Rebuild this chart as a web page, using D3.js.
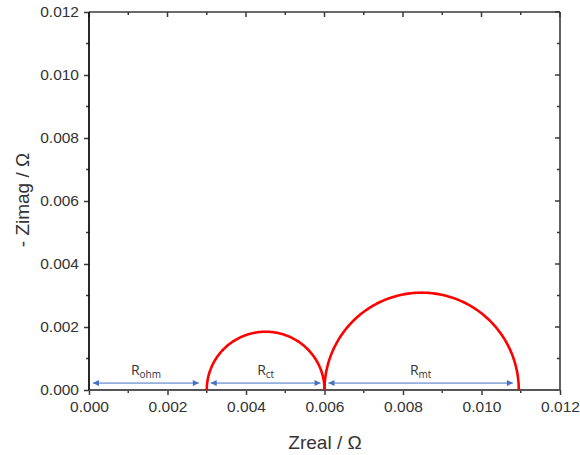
<!DOCTYPE html>
<html><head><meta charset="utf-8">
<script src="https://cdn.jsdelivr.net/npm/d3@7"></script>
<style>body{margin:0;background:#fff}svg{display:block;font-family:Arial,"Liberation Sans",sans-serif}</style>
</head><body><svg id="c" width="580" height="455"></svg>
<script>
const xTicks = [0, 0.002, 0.004, 0.006, 0.008, 0.010, 0.012];
const yTicks = [0, 0.002, 0.004, 0.006, 0.008, 0.010, 0.012];
const arcStart = [0.003, 0.006];
const arcEnd = [0.006, 0.01095];
const arcPeak = [0.00185, 0.00309];
const arrowFrom = [0.0001, 0.0031, 0.0061];
const arrowTo = [0.0028, 0.0059, 0.0108];
const arrowY = [0.00022, 0.00022, 0.00022];
const labelMain = ["R", "R", "R"];
const labelSub = ["ohm", "ct", "mt"];

const svg = d3.select("#c");
const L = 89, R = 560, T = 12, B = 390;
const x = d3.scaleLinear().domain([0, 0.012]).range([L, R]);
const y = d3.scaleLinear().domain([0, 0.012]).range([B, T]);
const fmt = d3.format(".3f");
const axCol = "#3a3a3a";
const minorX = d3.range(0.001, 0.012, 0.002);
const tickFont = 15.5;

// bottom
const gb = svg.append("g").attr("transform", `translate(0,${B})`)
  .call(d3.axisBottom(x).tickValues(xTicks).tickFormat(fmt).tickSize(5).tickPadding(6));
gb.select(".domain").remove();
gb.selectAll("text").attr("font-size", tickFont).attr("fill", "#333").attr("font-family", "Arial, 'Liberation Sans', sans-serif");
gb.selectAll("line").attr("stroke", axCol).attr("stroke-width", 1.5);
svg.append("g").selectAll("line").data(minorX).join("line")
  .attr("x1", d => x(d)).attr("x2", d => x(d)).attr("y1", B).attr("y2", B + 3)
  .attr("stroke", axCol).attr("stroke-width", 1.5);
// left
const gl = svg.append("g").attr("transform", `translate(${L},0)`)
  .call(d3.axisLeft(y).tickValues(yTicks).tickFormat(fmt).tickSize(5).tickPadding(5));
gl.select(".domain").remove();
gl.selectAll("text").attr("font-size", tickFont).attr("fill", "#333").attr("font-family", "Arial, 'Liberation Sans', sans-serif");
gl.selectAll("line").attr("stroke", axCol).attr("stroke-width", 1.5);
svg.append("g").selectAll("line").data(minorX).join("line")
  .attr("y1", d => y(d)).attr("y2", d => y(d)).attr("x1", L).attr("x2", L - 3)
  .attr("stroke", axCol).attr("stroke-width", 1.5);
// top (inward ticks)
svg.append("g").selectAll("line").data(xTicks).join("line")
  .attr("x1", d => x(d)).attr("x2", d => x(d)).attr("y1", T).attr("y2", T + 5)
  .attr("stroke", axCol).attr("stroke-width", 1.5);
svg.append("g").selectAll("line").data(minorX).join("line")
  .attr("x1", d => x(d)).attr("x2", d => x(d)).attr("y1", T).attr("y2", T + 3)
  .attr("stroke", axCol).attr("stroke-width", 1.5);
// right (inward ticks)
svg.append("g").selectAll("line").data(yTicks).join("line")
  .attr("y1", d => y(d)).attr("y2", d => y(d)).attr("x1", R).attr("x2", R - 5)
  .attr("stroke", axCol).attr("stroke-width", 1.5);
svg.append("g").selectAll("line").data(minorX).join("line")
  .attr("y1", d => y(d)).attr("y2", d => y(d)).attr("x1", R).attr("x2", R - 3)
  .attr("stroke", axCol).attr("stroke-width", 1.5);
// frame
svg.append("line").attr("x1", L).attr("x2", R).attr("y1", T).attr("y2", T).attr("stroke", axCol).attr("stroke-width", 1.6);
svg.append("line").attr("x1", R).attr("x2", R).attr("y1", T).attr("y2", B).attr("stroke", axCol).attr("stroke-width", 1.6);
svg.append("line").attr("x1", L).attr("x2", R).attr("y1", B).attr("y2", B).attr("stroke", "#555").attr("stroke-width", 2.2);
svg.append("line").attr("x1", L).attr("x2", L).attr("y1", T).attr("y2", B).attr("stroke", "#111").attr("stroke-width", 1.8);

// arrows
const defs = svg.append("defs");
defs.append("marker").attr("id", "ah").attr("viewBox", "0 0 10 10").attr("refX", 10).attr("refY", 5)
  .attr("markerWidth", 8).attr("markerHeight", 6).attr("markerUnits", "userSpaceOnUse").attr("orient", "auto-start-reverse")
  .append("path").attr("d", "M0,0L10,5L0,10Z").attr("fill", "#4472C4");
svg.append("g").selectAll("line").data(arrowFrom).join("line")
  .attr("x1", d => x(d)).attr("x2", (d, i) => x(arrowTo[i]))
  .attr("y1", (d, i) => y(arrowY[i])).attr("y2", (d, i) => y(arrowY[i]))
  .attr("stroke", "#4472C4").attr("stroke-width", 1)
  .attr("marker-start", "url(#ah)").attr("marker-end", "url(#ah)");
const lab = svg.append("g").selectAll("text").data(labelMain).join("text")
  .attr("x", (d, i) => x((arrowFrom[i] + arrowTo[i]) / 2))
  .attr("y", (d, i) => y(arrowY[i]) - 8)
  .attr("text-anchor", "middle").attr("font-size", 14).attr("fill", "#333")
  .attr("font-family", "'Open Sans', 'Liberation Sans', sans-serif");
lab.append("tspan").text(d => d);
lab.append("tspan").attr("font-size", 10).attr("dy", 2.5).text((d, i) => labelSub[i]);

// arcs
const line = d3.line().x(d => x(d[0])).y(d => y(d[1]));
arcStart.forEach((s, i) => {
  const e = arcEnd[i], c = (s + e) / 2, r = (e - s) / 2, h = arcPeak[i];
  const pts = d3.range(0, 181).map(a => {
    const t = Math.PI - a * Math.PI / 180;
    return [c + r * Math.cos(t), h * Math.sin(t)];
  });
  svg.append("path").attr("d", line(pts)).attr("fill", "none").attr("stroke", "#ff0000").attr("stroke-width", 2.6);
});

// titles
svg.append("text").attr("x", 325).attr("y", 449).attr("text-anchor", "middle")
  .attr("font-size", 19).attr("fill", "#333").text("Zreal / Ω");
svg.append("text").attr("transform", `translate(29,200) rotate(-90)`).attr("text-anchor", "middle")
  .attr("font-size", 19).attr("fill", "#333").text("- Zimag / Ω");
</script></body></html>
